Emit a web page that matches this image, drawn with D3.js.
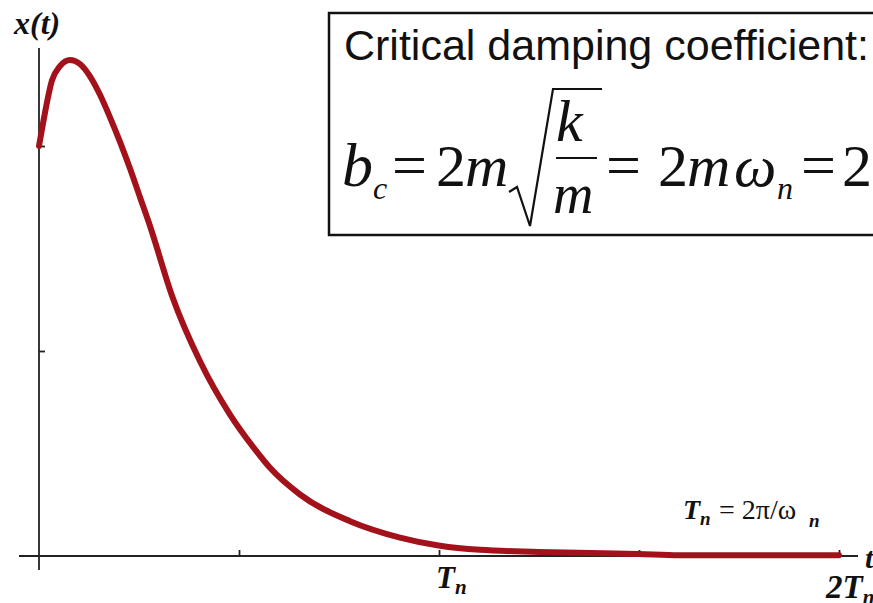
<!DOCTYPE html>
<html>
<head>
<meta charset="utf-8">
<script src="https://cdn.jsdelivr.net/npm/d3@7"></script>
<style>
  html, body { margin: 0; padding: 0; background: #fff; }
  svg { display: block; }
</style>
</head>
<body>
<svg id="chart" width="873" height="603"></svg>
<script>
// Critically damped response x(t); time measured in units of the natural period Tn
const timeValues = [0, 0.01, 0.0325, 0.0525, 0.0775, 0.1025, 0.1275, 0.1525, 0.1775, 0.2025,
  0.2275, 0.2525, 0.2775, 0.3325, 0.4025, 0.4775, 0.54, 0.5775, 0.6525, 0.7775,
  0.9025, 1.0025, 1.1025, 1.25, 1.5, 1.6, 2.0];
const displacementValues = [2.0, 2.11, 2.32, 2.39, 2.42, 2.40, 2.34, 2.25, 2.14, 2.02,
  1.89, 1.75, 1.61, 1.27, 0.95, 0.69, 0.52, 0.43, 0.30, 0.17,
  0.09, 0.05, 0.03, 0.02, 0.01, 0.004, 0.004];
const timeTicks = [0.5, 1, 1.5, 2];
const displacementTicks = [1, 2];
const labeledTimes = [1, 2];
const labeledTimeText = ["T", "2T"];

const svg = d3.select("#chart");
const x = d3.scaleLinear().domain([0, 2]).range([39, 839]);
const y = d3.scaleLinear().domain([0, 2]).range([556, 146]);

const axisColor = "#222";
const curveColor = "#a3121b";
const serif = "'Liberation Serif', 'Times New Roman', serif";
const sans = "'Liberation Sans', Arial, sans-serif";

// Axis lines
svg.append("line")
  .attr("x1", x(0) - 20).attr("x2", x(2) + 19)
  .attr("y1", y(0)).attr("y2", y(0))
  .attr("stroke", axisColor).attr("stroke-width", 1.8);
svg.append("line")
  .attr("x1", x(0)).attr("x2", x(0))
  .attr("y1", y(0) + 14).attr("y2", 48)
  .attr("stroke", axisColor).attr("stroke-width", 1.8);

// Tick marks
const xAxis = d3.axisBottom(x).tickValues(timeTicks).tickSize(-6).tickFormat("");
svg.append("g")
  .attr("transform", `translate(0,${y(0)})`)
  .call(xAxis)
  .call(g => g.select(".domain").remove())
  .call(g => g.selectAll(".tick line").attr("stroke", axisColor).attr("stroke-width", 1.8));

const yAxis = d3.axisLeft(y).tickValues(displacementTicks).tickSize(-6).tickFormat("");
svg.append("g")
  .attr("transform", `translate(${x(0)},0)`)
  .call(yAxis)
  .call(g => g.select(".domain").remove())
  .call(g => g.selectAll(".tick line").attr("stroke", axisColor).attr("stroke-width", 1.8));

// Response curve
const points = timeValues.map((t, i) => ({ t, v: displacementValues[i] }));
const line = d3.line().x(d => x(d.t)).y(d => y(d.v)).curve(d3.curveMonotoneX);
svg.append("path")
  .datum(points)
  .attr("d", line)
  .attr("fill", "none")
  .attr("stroke", curveColor)
  .attr("stroke-width", 6)
  .attr("stroke-linecap", "round")
  .attr("stroke-linejoin", "round");

// Axis labels
svg.append("text")
  .attr("x", 14).attr("y", 34)
  .attr("font-family", serif).attr("font-size", 32)
  .attr("font-weight", "bold").attr("font-style", "italic")
  .attr("fill", "#111")
  .text("x(t)");

svg.append("text")
  .attr("x", 865).attr("y", 568)
  .attr("font-family", serif).attr("font-size", 30)
  .attr("font-weight", "bold").attr("font-style", "italic")
  .attr("fill", "#111")
  .text("t");

labeledTimes.forEach((t, i) => {
  const lbl = svg.append("text")
    .attr("x", x(t) + (i === 0 ? -3 : -13))
    .attr("y", y(0) + (i === 0 ? 32 : 42))
    .attr("font-family", serif).attr("font-size", i === 0 ? 31 : 33)
    .attr("font-weight", "bold").attr("font-style", "italic")
    .attr("fill", "#111");
  lbl.append("tspan").text(labeledTimeText[i]);
  lbl.append("tspan").attr("font-size", 21).attr("dy", 6).text("n");
});

// Period definition
const pBase = 519;
const period = svg.append("g").attr("font-family", serif).attr("fill", "#111");
period.append("text").attr("x", 683).attr("y", pBase)
  .attr("font-size", 28).attr("font-weight", "bold").attr("font-style", "italic").text("T");
period.append("text").attr("x", 700).attr("y", pBase + 6)
  .attr("font-size", 19).attr("font-weight", "bold").attr("font-style", "italic").text("n");
period.append("text").attr("x", 719).attr("y", pBase)
  .attr("font-size", 28).text("= 2\u03c0/\u03c9");
period.append("text").attr("x", 809).attr("y", pBase + 8)
  .attr("font-size", 19).attr("font-weight", "bold").attr("font-style", "italic").text("n");

// Boxed note on the critical damping coefficient
svg.append("rect")
  .attr("x", 329).attr("y", 13)
  .attr("width", 600).attr("height", 222)
  .attr("fill", "#fff").attr("stroke", "#111").attr("stroke-width", 2.5);

svg.append("text")
  .attr("x", 344).attr("y", 60)
  .attr("font-family", sans).attr("font-size", 43)
  .attr("fill", "#111")
  .text("Critical damping coefficient:");

const baseY = 186;
const eq = svg.append("g").attr("font-family", serif).attr("fill", "#111");

function glyph(px, py, str, size, italic) {
  eq.append("text")
    .attr("x", px).attr("y", py)
    .attr("font-size", size)
    .attr("font-style", italic ? "italic" : "normal")
    .text(str);
}

glyph(342, baseY, "b", 62, true);
glyph(373, baseY + 13, "c", 32, true);
glyph(392, baseY, "=", 62, false);
glyph(436, baseY, "2", 60, false);
glyph(465, baseY, "m", 60, true);
glyph(556, 141, "k", 60, true);
glyph(553, 213, "m", 56, true);
glyph(606, baseY, "=", 62, false);
glyph(658, baseY, "2", 60, false);
glyph(687, baseY, "m", 60, true);
glyph(734, baseY, "\u03c9", 60, true);
glyph(777, baseY + 13, "n", 32, true);
glyph(801, baseY, "=", 62, false);
glyph(842, baseY, "2", 60, false);

// Fraction bar and radical sign
svg.append("line")
  .attr("x1", 556).attr("x2", 597).attr("y1", 158).attr("y2", 158)
  .attr("stroke", "#111").attr("stroke-width", 2.2);
svg.append("path")
  .attr("d", "M509,192 L517,187 L530,226 L553,89 L602,89")
  .attr("fill", "none").attr("stroke", "#111").attr("stroke-width", 2.2)
  .attr("stroke-linejoin", "miter");
</script>
</body>
</html>
